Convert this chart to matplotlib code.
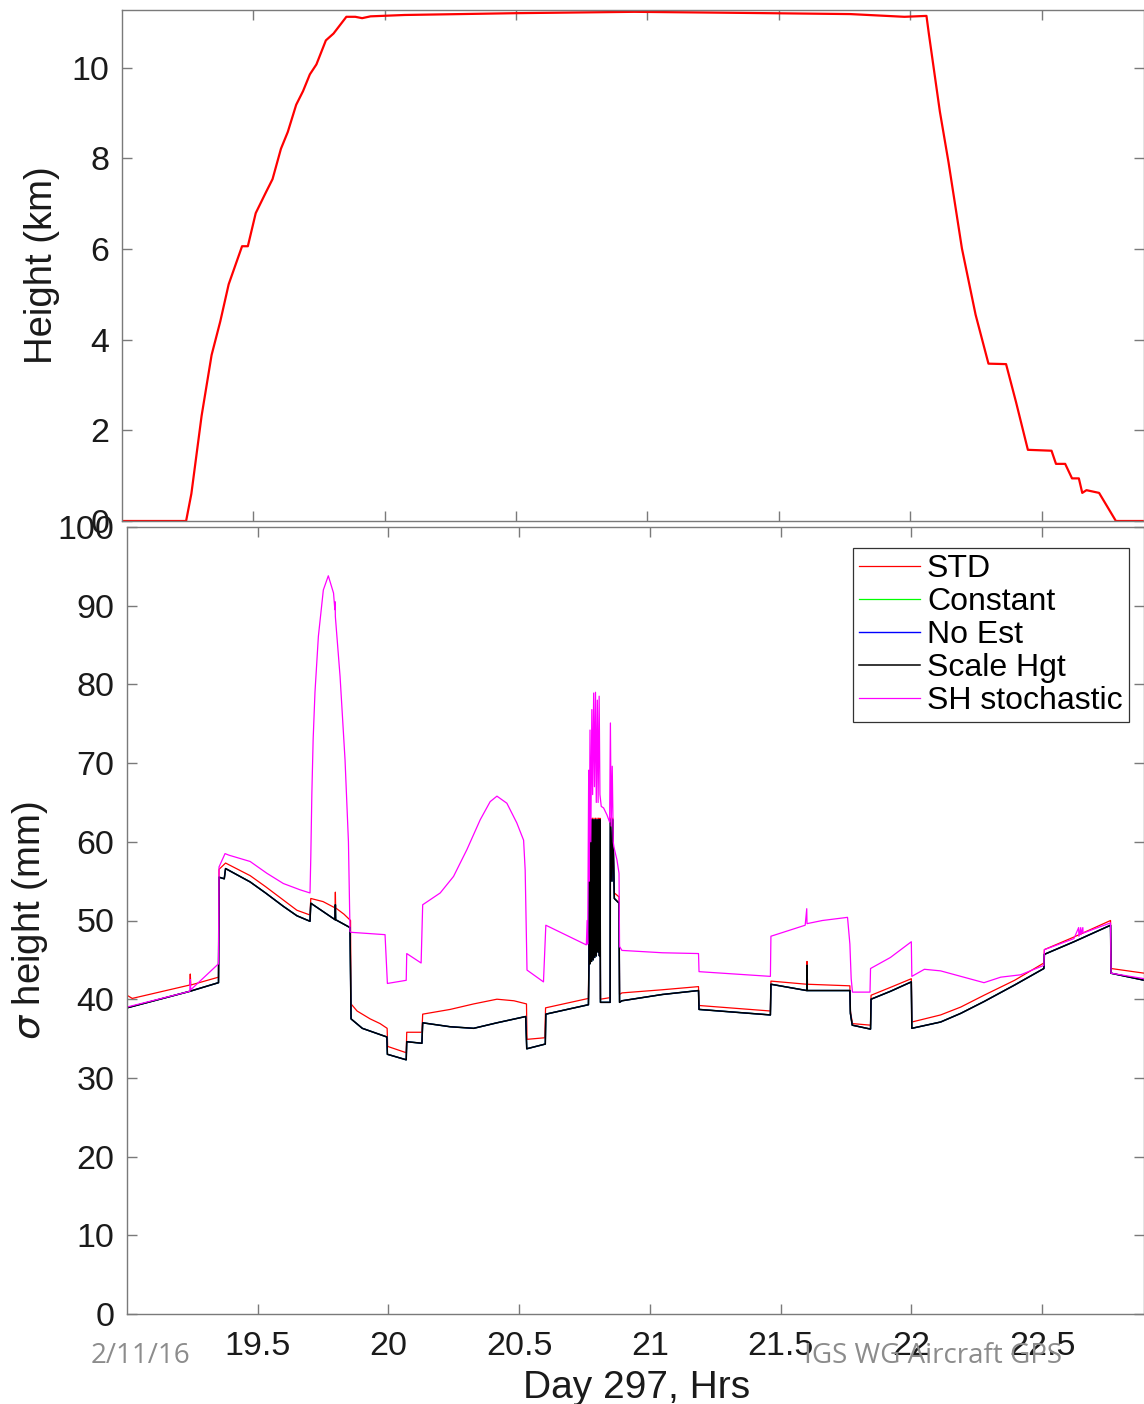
import matplotlib
matplotlib.use("Agg")
import matplotlib.pyplot as plt

plt.rcParams['font.family'] = ['Liberation Sans', 'DejaVu Sans']
plt.rcParams['mathtext.fontset'] = 'dejavusans'

# ---- top panel: aircraft height ----
height_t = [19.0, 19.244, 19.264, 19.303, 19.341, 19.374, 19.406, 19.457, 19.479, 19.509,
            19.547, 19.573, 19.605, 19.631, 19.663, 19.689, 19.715, 19.740, 19.776, 19.805,
            19.854, 19.888, 19.914, 19.946, 20.075, 20.5, 20.95, 21.3, 21.772, 21.978,
            22.062, 22.071, 22.113, 22.146, 22.197, 22.249, 22.298, 22.365, 22.403, 22.448,
            22.538, 22.555, 22.590, 22.616, 22.642, 22.655, 22.671, 22.719, 22.783, 22.885]
height_km = [0, 0, 0.60, 2.32, 3.66, 4.40, 5.22, 6.06, 6.06, 6.79,
             7.24, 7.54, 8.21, 8.58, 9.18, 9.48, 9.85, 10.07, 10.60, 10.75,
             11.12, 11.12, 11.09, 11.13, 11.16, 11.20, 11.23, 11.21, 11.18, 11.12,
             11.14, 10.75, 9.03, 7.91, 6.01, 4.55, 3.47, 3.46, 2.62, 1.57,
             1.55, 1.26, 1.26, 0.94, 0.94, 0.62, 0.68, 0.62, 0.0, 0.0]

# ---- bottom panel: sigma height (mm) ----
std_t = [19.000, 19.02, 19.240, 19.242, 19.244, 19.350, 19.352, 19.377, 19.471, 19.53,
         19.598, 19.65, 19.700, 19.703, 19.75, 19.796, 19.797, 19.798, 19.83, 19.855,
         19.857, 19.88, 19.93, 19.968, 19.995, 19.997, 20.068, 20.070, 20.128, 20.131,
         20.236, 20.326, 20.415, 20.48, 20.528, 20.530, 20.598, 20.601, 20.765,
         20.766, 20.768, 20.771, 20.774, 20.777, 20.780, 20.783, 20.786, 20.789, 20.792,
         20.795, 20.798, 20.801, 20.804, 20.807, 20.809, 20.811, 20.848, 20.849, 20.855,
         20.858, 20.864, 20.882, 20.884,
         20.893, 21.048, 21.186, 21.188, 21.461, 21.463, 21.600, 21.601, 21.603, 21.765,
         21.767, 21.775, 21.844, 21.846, 21.92, 22.000, 22.002, 22.112, 22.189, 22.278,
         22.395, 22.507, 22.509, 22.622, 22.762, 22.764, 22.892]
std_v = [40.5, 40.1, 41.8, 43.2, 41.8, 42.8, 56.5, 57.3, 55.7, 54.3,
         52.6, 51.3, 50.7, 52.8, 52.4, 51.6, 53.6, 51.6, 50.8, 50.0,
         39.4, 38.5, 37.5, 36.9, 36.3, 34.0, 33.2, 35.8, 35.8, 38.1,
         38.7, 39.4, 40.0, 39.8, 39.4, 34.9, 35.1, 38.9, 40.1,
         44.0, 63.0, 46.0, 63.0, 46.0, 63.0, 46.0, 63.0, 46.5, 63.0,
         47.0, 63.0, 47.0, 63.0, 46.0, 63.0, 40.0, 40.2, 63.0, 57.0,
         63.0, 53.5, 53.0, 40.6,
         40.8, 41.2, 41.6, 39.2, 38.5, 42.3, 41.9, 44.8, 41.9, 41.7,
         38.5, 36.9, 36.7, 40.5, 41.5, 42.6, 37.1, 38.0, 39.0, 40.5,
         42.4, 44.6, 46.3, 47.9, 50.0, 43.9, 43.3]

scale_t = [19.000, 19.240, 19.350, 19.352, 19.372, 19.377, 19.471, 19.53, 19.598, 19.65,
           19.700, 19.703, 19.796, 19.797, 19.798, 19.853, 19.857, 19.90, 19.994, 19.996,
           20.068, 20.070, 20.128, 20.131, 20.236, 20.326, 20.415, 20.525, 20.529, 20.600,
           20.602, 20.765,
           20.767, 20.769, 20.771, 20.774, 20.777, 20.780, 20.783, 20.786, 20.789, 20.792,
           20.795, 20.798, 20.801, 20.804, 20.807, 20.809, 20.811, 20.848, 20.849, 20.855,
           20.858, 20.864, 20.882, 20.884,
           20.893, 21.048, 21.186, 21.188, 21.461, 21.463, 21.600, 21.601, 21.602, 21.765,
           21.767, 21.774, 21.844, 21.846, 21.92, 22.000, 22.002, 22.112, 22.189, 22.278,
           22.395, 22.507, 22.509, 22.622, 22.762, 22.764, 22.892]
scale_v = [38.9, 41.0, 42.1, 55.5, 55.3, 56.6, 54.9, 53.5, 51.8, 50.6,
           49.9, 52.2, 50.1, 52.0, 50.1, 49.1, 37.5, 36.3, 35.2, 33.0,
           32.3, 34.6, 34.4, 37.0, 36.5, 36.3, 37.0, 37.8, 33.7, 34.3,
           38.1, 39.3,
           44.5, 62.8, 44.5, 62.8, 44.8, 62.8, 45.0, 62.8, 45.3, 62.8,
           45.5, 62.8, 46.0, 62.8, 45.5, 62.8, 39.6, 39.6, 62.8, 55.0,
           62.8, 52.8, 52.2, 39.6,
           39.8, 40.6, 41.1, 38.7, 38.0, 41.9, 41.1, 44.3, 41.1, 41.1,
           38.2, 36.7, 36.2, 40.0, 41.0, 42.2, 36.3, 37.1, 38.2, 39.7,
           41.8, 43.9, 45.7, 47.3, 49.4, 43.3, 42.4]

# Constant and No Est lie exactly under Scale Hgt in the picture
const_t, const_v = scale_t, scale_v
noest_t, noest_v = scale_t, scale_v

sh_t = [19.000, 19.240, 19.242, 19.244, 19.350, 19.352, 19.375, 19.39, 19.471, 19.535,
        19.598, 19.662, 19.700, 19.703, 19.707, 19.712, 19.719, 19.732, 19.751, 19.770,
        19.790, 19.795, 19.796, 19.797, 19.815, 19.834, 19.847, 19.853, 19.857, 19.987,
        19.996, 20.068, 20.070, 20.125, 20.131, 20.198, 20.249, 20.300, 20.351, 20.389,
        20.415, 20.453, 20.491, 20.517, 20.523, 20.530, 20.593, 20.602, 20.757,
        20.760, 20.762, 20.766, 20.768, 20.771, 20.774, 20.778, 20.781, 20.785, 20.788,
        20.792, 20.795, 20.799, 20.802, 20.806, 20.809, 20.814, 20.823, 20.836, 20.846,
        20.849, 20.852, 20.856, 20.860, 20.862, 20.874, 20.882, 20.884,
        20.893, 21.048, 21.186, 21.188, 21.461, 21.463, 21.594, 21.600, 21.601, 21.66,
        21.756, 21.765, 21.770, 21.775, 21.842, 21.844, 21.92, 22.000, 22.002, 22.05,
        22.112, 22.278, 22.342, 22.418, 22.507, 22.509, 22.622, 22.640, 22.641, 22.648,
        22.649, 22.656, 22.657, 22.762, 22.764, 22.892]
sh_v = [39.0, 41.0, 42.5, 41.2, 44.5, 56.8, 58.5, 58.3, 57.5, 56.0,
        54.7, 53.9, 53.5, 58.0, 66.0, 73.0, 79.0, 86.1, 92.0, 93.8,
        91.6, 89.5, 90.5, 88.6, 81.0, 70.4, 60.0, 48.6, 48.5, 48.2,
        42.0, 42.4, 45.8, 44.6, 52.0, 53.5, 55.6, 59.0, 62.8, 65.1,
        65.8, 64.9, 62.4, 60.2, 56.4, 43.7, 42.2, 49.4, 46.9,
        50.0, 47.0, 69.1, 55.0, 74.2, 60.0, 76.8, 66.0, 78.9, 67.0,
        79.0, 65.0, 78.0, 65.0, 78.5, 66.0, 64.5, 64.3, 63.4, 62.5,
        75.1, 62.0, 69.6, 60.0, 59.4, 57.7, 56.0, 46.7,
        46.2, 45.9, 45.8, 43.5, 42.9, 48.0, 49.4, 51.5, 49.6, 50.0,
        50.4, 47.0, 42.6, 40.9, 40.9, 43.9, 45.3, 47.3, 42.9, 43.8,
        43.6, 42.1, 42.8, 43.1, 44.3, 46.3, 47.7, 49.1, 48.0, 49.1,
        48.2, 49.1, 48.4, 49.7, 43.3, 42.6]

hour_ticks = [19.5, 20, 20.5, 21, 21.5, 22, 22.5]
hour_labels = ['19.5', '20', '20.5', '21', '21.5', '22', '22.5']
km_ticks = [0, 2, 4, 6, 8, 10]
mm_ticks = [0, 10, 20, 30, 40, 50, 60, 70, 80, 90, 100]

W, H = 1144, 1404
fig = plt.figure(figsize=(W / 100, H / 100), dpi=100)

ax1 = fig.add_axes([122 / W, 1 - 521 / H, 1 - 122 / W, (521 - 10) / H])
ax2 = fig.add_axes([127 / W, 1 - 1314 / H, 1 - 127 / W, (1314 - 527) / H])

axis_col = '#7a7a7a'
text_col = '#1a1a1a'
for ax in (ax1, ax2):
    for s in ax.spines.values():
        s.set_color(axis_col)
        s.set_linewidth(1.0)
    ax.tick_params(direction='in', length=7, width=1.0, color=axis_col,
                   top=True, right=True, labelsize=24.5, labelcolor=text_col, pad=9)
    ax.set_xlim(19.0, 22.89)
    ax.set_xticks(hour_ticks)
ax2.tick_params(axis='x', pad=12.5)

# top panel
ax1.plot(height_t, height_km, color='#ff0000', lw=1.6)
ax1.set_ylim(0, 11.27)
ax1.set_yticks(km_ticks)
ax1.set_xticklabels([])
ax1.set_ylabel('Height (km)', fontsize=27.5, color=text_col, va='center')
ax1.yaxis.set_label_coords(-0.078, 0.5)

# bottom panel
ax2.plot(std_t, std_v, color='#ff0000', lw=0.9, label='STD')
ax2.plot(const_t, const_v, color='#00ff00', lw=0.9, label='Constant')
ax2.plot(noest_t, noest_v, color='#0000ff', lw=1.0, label='No Est')
ax2.plot(scale_t, scale_v, color='#000000', lw=1.1, label='Scale Hgt')
ax2.plot(sh_t, sh_v, color='#ff00ff', lw=0.9, label='SH stochastic')
ax2.set_ylim(0, 100)
ax2.set_yticks(mm_ticks)
ax2.set_xticklabels(hour_labels)
ax2.set_ylabel(r'$\sigma$ height (mm)', fontsize=27.5, color=text_col, va='center')
ax2.yaxis.set_label_coords(-0.095, 0.5)
ax2.set_xlabel('Day 297, Hrs', fontsize=28, color=text_col, va='center')
ax2.xaxis.set_label_coords(0.5015, -0.094)

leg = ax2.legend(loc='upper right', bbox_to_anchor=(1129 / W, 1 - 548 / H),
                 bbox_transform=fig.transFigure, borderaxespad=0, fontsize=23,
                 fancybox=False, framealpha=1, edgecolor='#333333',
                 handlelength=1.9, handletextpad=0.22, labelspacing=0.09,
                 borderpad=0.2)
leg.get_frame().set_linewidth(0.9)
for t in leg.get_texts():
    t.set_color('#000000')

# slide footer
fig.text(140 / W, 1 - 1356 / H, '2/11/16', fontsize=20, color='#8c8c8c',
         family='Open Sans', ha='center', va='center')
fig.text(933 / W, 1 - 1356 / H, 'IGS WG Aircraft GPS', fontsize=20, color='#8c8c8c',
         family='Open Sans', ha='center', va='center')

fig.savefig('out.png', dpi=100)
